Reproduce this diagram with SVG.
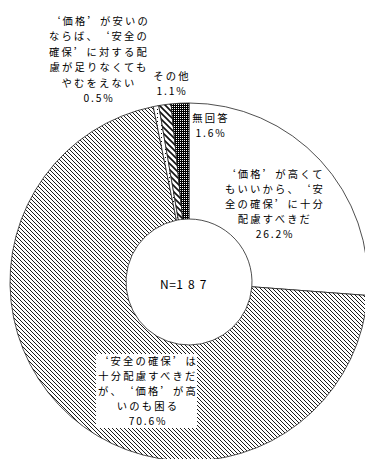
<svg xmlns="http://www.w3.org/2000/svg" width="365" height="459" viewBox="0 0 365 459">
<style>
text{font-family:"Noto Sans CJK JP","Noto Sans CJK SC",sans-serif;font-size:10.3px;letter-spacing:2.2px;fill:#000;text-anchor:middle}
.q{font-feature-settings:"fwid"}
.p{letter-spacing:1.8px}
.seg{stroke:#222;stroke-width:0.8;stroke-linejoin:round}
</style>
<defs>
<pattern id="hatch" width="4" height="4" patternUnits="userSpaceOnUse">
<rect width="4" height="4" fill="#fff"/>
<path d="M-1,-1 L5,5 M-1,3 L1,5 M3,-1 L5,1" stroke="#1a1a1a" stroke-width="1"/>
</pattern>
<pattern id="wide" width="6" height="6" patternUnits="userSpaceOnUse">
<rect width="6" height="6" fill="#fff"/>
<path d="M-1,-1 L7,7 M-1,5 L1,7 M5,-1 L7,1" stroke="#111" stroke-width="1.6"/>
</pattern>
<pattern id="sparse" width="4" height="4" patternUnits="userSpaceOnUse">
<rect width="4" height="4" fill="#fff"/>
<rect x="1" y="1" width="1" height="1" fill="#000"/>
</pattern>
<pattern id="dark" width="2" height="2" patternUnits="userSpaceOnUse">
<rect width="2" height="2" fill="#000"/>
<rect x="0" y="0" width="1" height="1" fill="#fff"/>
</pattern>
</defs>
<g id="connectors"></g>
<g id="seg-high-ok">
<path class="seg" fill="#fff" d="M189 103 A179 179 0 0 1 367.49 295.48 L251.82 286.75 A63 63 0 0 0 189 219 Z"/>
<text class="q" x="275" y="178">‘価格’が高くて</text>
<text class="q" x="275" y="193">もいいから、‘安</text>
<text class="q" x="275" y="208">全の確保’に十分</text>
<text x="275" y="223">配慮すべきだ</text>
<text class="p" x="275" y="238">26.2%</text>
</g>
<g id="seg-both">
<path class="seg" fill="url(#hatch)" d="M367.49 295.48 A179 179 0 1 1 153.25 106.6 L176.42 220.27 A63 63 0 1 0 251.82 286.75 Z"/>
<rect x="96" y="354" width="101" height="74" fill="#fff"/>
<text class="q" x="148" y="365">‘安全の確保’は</text>
<text x="148" y="380">十分配慮すべきだ</text>
<text class="q" x="148" y="395">が、‘価格’が高</text>
<text x="148" y="410">いのも困る</text>
<text class="p" x="148" y="425">70.6%</text>
</g>
<g id="seg-cheap">
<path class="seg" fill="url(#sparse)" d="M153.25 106.6 A179 179 0 0 1 158.78 105.57 L178.36 219.9 A63 63 0 0 0 176.42 220.27 Z"/>
<text class="q" x="100" y="24.5">‘価格’が安いの</text>
<text class="q" x="99" y="40">ならば、‘安全の</text>
<text class="q" x="99" y="55.5">確保’に対する配</text>
<text x="99" y="71">慮が足りなくても</text>
<text x="99" y="86.5">やむをえない</text>
<text class="p" x="99" y="102">0.5%</text>
</g>
<g id="seg-other">
<path class="seg" fill="url(#wide)" d="M158.78 105.57 A179 179 0 0 1 171.04 103.9 L182.68 219.32 A63 63 0 0 0 178.36 219.9 Z"/>
<text x="172" y="80">その他</text>
<text class="p" x="172" y="95">1.1%</text>
</g>
<g id="seg-none">
<path class="seg" fill="url(#dark)" d="M171.04 103.9 A179 179 0 0 1 189 103 L189 219 A63 63 0 0 0 182.68 219.32 Z"/>
<text x="211" y="122">無回答</text>
<text class="p" x="211" y="137">1.6%</text>
</g>
<g id="center">
<text x="160" y="289" style="text-anchor:start;font-size:12px;letter-spacing:0.5px">N=<tspan letter-spacing="5">187</tspan></text>
</g>
</svg>
